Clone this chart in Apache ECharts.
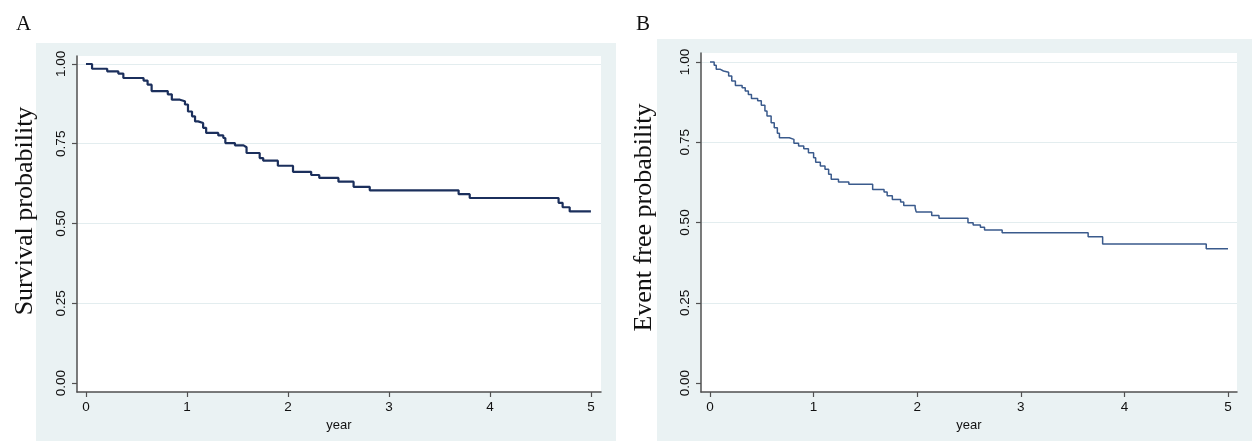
<!DOCTYPE html>
<html>
<head>
<meta charset="utf-8">
<script src="https://cdn.jsdelivr.net/npm/echarts@6/dist/echarts.min.js"></script>
<style>
html,body{margin:0;padding:0;background:#fff;}
#chart{width:1252px;height:441px;}
</style>
</head>
<body>
<div id="chart"></div>
<script>
// Panel A: overall survival (year, probability)
const survivalA = [
  [0, 1.0], [0.06, 0.985], [0.21, 0.977], [0.32, 0.970], [0.37, 0.956],
  [0.57, 0.948], [0.61, 0.935], [0.65, 0.915], [0.81, 0.905], [0.85, 0.888],
  [0.93, 0.883], [0.98, 0.873], [1.01, 0.851], [1.05, 0.836], [1.08, 0.820],
  [1.11, 0.815], [1.16, 0.800], [1.19, 0.784], [1.31, 0.776], [1.36, 0.768],
  [1.38, 0.752], [1.475, 0.745], [1.56, 0.739], [1.59, 0.721], [1.72, 0.705],
  [1.755, 0.697], [1.90, 0.681], [2.05, 0.662], [2.23, 0.652], [2.31, 0.643],
  [2.50, 0.631], [2.65, 0.615], [2.81, 0.604], [3.69, 0.592], [3.80, 0.580],
  [4.68, 0.565], [4.72, 0.551], [4.79, 0.538], [5.0, 0.538]
];
// Panel B: event free survival (year, probability)
const eventFreeB = [
  [0, 1.0], [0.04, 0.99], [0.06, 0.977], [0.10, 0.972], [0.13, 0.968],
  [0.18, 0.956], [0.21, 0.941], [0.245, 0.927], [0.31, 0.920], [0.34, 0.910],
  [0.37, 0.899], [0.40, 0.886], [0.46, 0.879], [0.495, 0.865], [0.53, 0.847],
  [0.55, 0.832], [0.59, 0.811], [0.62, 0.795], [0.65, 0.778], [0.67, 0.764],
  [0.765, 0.759], [0.81, 0.747], [0.855, 0.738], [0.905, 0.730], [0.95, 0.717],
  [1.0, 0.702], [1.02, 0.688], [1.065, 0.676], [1.11, 0.666], [1.145, 0.650],
  [1.17, 0.635], [1.24, 0.626], [1.34, 0.619], [1.57, 0.603], [1.68, 0.595],
  [1.71, 0.583], [1.76, 0.572], [1.84, 0.564], [1.87, 0.553], [1.98, 0.546],
  [1.99, 0.533], [2.14, 0.522], [2.21, 0.513], [2.49, 0.499], [2.54, 0.492],
  [2.61, 0.485], [2.65, 0.477], [2.82, 0.468], [3.65, 0.456], [3.79, 0.433],
  [4.79, 0.418], [5.0, 0.418]
];
const xTicks = [0, 1, 2, 3, 4, 5];
const yTicks = [0, 0.25, 0.5, 0.75, 1];
const panelLetters = ['A', 'B'];
const yTitles = ['Survival probability', 'Event free probability'];
const xTitle = 'year';

const chart = echarts.init(document.getElementById('chart'));
const sans = 'Liberation Sans, Arial, sans-serif';
const serif = 'Liberation Serif, Times New Roman, serif';
const gridColor = '#e3edef';
const axisColor = '#505050';

function xAxisCfg(idx, min, max) {
  return {
    type: 'value', gridIndex: idx, min: min, max: max,
    name: xTitle, nameLocation: 'middle', nameGap: 26,
    nameTextStyle: {fontFamily: sans, fontSize: 13, color: '#111'},
    axisLine: {show: true, onZero: false, lineStyle: {color: axisColor, width: 1.5}},
    axisTick: {show: true, length: 5, customValues: xTicks, lineStyle: {color: axisColor, width: 1.2}},
    axisLabel: {customValues: xTicks, fontFamily: sans, fontSize: 13.5, color: '#111', margin: 8},
    splitLine: {show: false}
  };
}
function yAxisCfg(idx, min, max, title, gap, shift) {
  return {
    type: 'value', gridIndex: idx, min: min, max: max,
    name: title, nameLocation: 'middle', nameGap: gap, nameRotate: 90,
    nameTextStyle: {fontFamily: serif, fontSize: 26, color: '#111', padding: [0, 0, 0, shift]},
    axisLine: {show: true, onZero: false, lineStyle: {color: axisColor, width: 1.5}},
    axisTick: {show: true, length: 5, customValues: yTicks, lineStyle: {color: axisColor, width: 1.2}},
    axisLabel: {customValues: yTicks, rotate: 90, fontFamily: sans, fontSize: 13.5, color: '#111', margin: 9,
      formatter: v => v.toFixed(2)},
    splitLine: {show: true, lineStyle: {color: ['rgba(0,0,0,0)', gridColor, gridColor, gridColor, gridColor], width: 1.2}}
  };
}

chart.setOption({
  backgroundColor: '#ffffff',
  animation: false,
  graphic: [
    {type: 'rect', z: -10, shape: {x: 36, y: 43, width: 580, height: 400}, style: {fill: '#eaf2f3'}},
    {type: 'rect', z: -10, shape: {x: 657, y: 39, width: 600, height: 404}, style: {fill: '#eaf2f3'}},
    {type: 'text', left: 16, top: 14, style: {text: panelLetters[0], font: '21px ' + serif, fill: '#111'}},
    {type: 'text', left: 636, top: 14, style: {text: panelLetters[1], font: '21px ' + serif, fill: '#111'}}
  ],
  grid: [
    {left: 77, top: 56, width: 524, height: 336, show: true, backgroundColor: '#ffffff', borderWidth: 0},
    {left: 701, top: 53, width: 536, height: 339, show: true, backgroundColor: '#ffffff', borderWidth: 0}
  ],
  xAxis: [xAxisCfg(0, -0.089, 5.1), xAxisCfg(1, -0.087, 5.087)],
  yAxis: [yAxisCfg(0, -0.028, 1.025, yTitles[0], 39, 26), yAxisCfg(1, -0.028, 1.028, yTitles[1], 44, 10)],
  series: [
    {type: 'line', xAxisIndex: 0, yAxisIndex: 0, step: 'end', data: survivalA, symbol: 'none',
      lineStyle: {color: '#1b2f5c', width: 2.2}},
    {type: 'line', xAxisIndex: 1, yAxisIndex: 1, step: 'end', data: eventFreeB, symbol: 'none',
      lineStyle: {color: '#3a5a8c', width: 1.5}}
  ]
});
</script>
</body>
</html>
